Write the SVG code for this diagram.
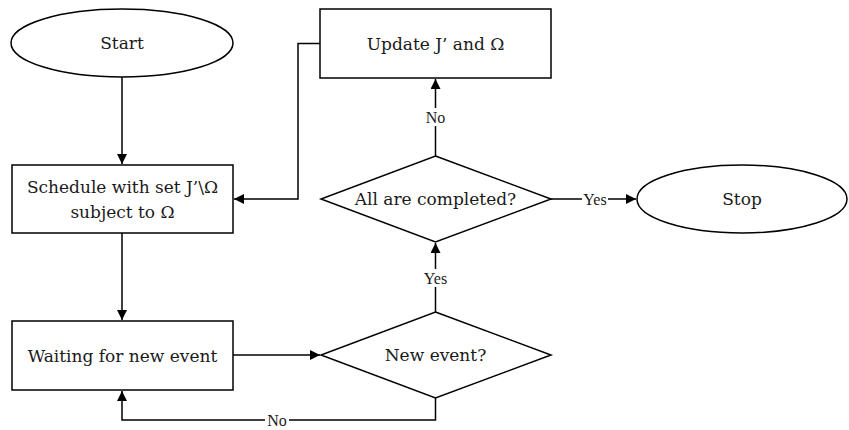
<svg xmlns="http://www.w3.org/2000/svg" width="849" height="430" viewBox="0 0 849 430">
  <defs>
    <marker id="arrow" viewBox="0 0 10 10" refX="10" refY="5" markerWidth="10" markerHeight="10" markerUnits="userSpaceOnUse" orient="auto">
      <path d="M0,0 L10,5 L0,10 z" fill="#000"/>
    </marker>
    <style>
      .shape { fill: #fff; stroke: #000; stroke-width: 1.5; }
      .line { fill: none; stroke: #000; stroke-width: 1.5; }
      .txt { font-family: "DejaVu Serif", "Liberation Serif", serif; font-size: 17px; fill: #1a1a1a; text-anchor: middle; dominant-baseline: central; }
      .lbl { font-family: "Liberation Serif", "DejaVu Serif", serif; font-size: 16px; fill: #1a1a1a; text-anchor: middle; dominant-baseline: central; }
      .bg { fill: #fff; }
    </style>
  </defs>
  <rect width="849" height="430" fill="#fff"/>

  <!-- connectors -->
  <g id="connectors">
    <path class="line" d="M122,77 V164" marker-end="url(#arrow)"/>
    <path class="line" d="M122,233 V320" marker-end="url(#arrow)"/>
    <path class="line" d="M233,355 H320" marker-end="url(#arrow)"/>
    <path class="line" d="M435.5,312 V243" marker-end="url(#arrow)"/>
    <rect class="bg" x="421" y="269" width="30" height="18"/>
    <text class="lbl" x="435.5" y="278">Yes</text>
    <path class="line" d="M435.5,156 V79" marker-end="url(#arrow)"/>
    <rect class="bg" x="423" y="108" width="26" height="18"/>
    <text class="lbl" x="435.5" y="117">No</text>
    <path class="line" d="M551,199 H636" marker-end="url(#arrow)"/>
    <rect class="bg" x="582" y="190" width="26" height="18"/>
    <text class="lbl" x="595" y="199">Yes</text>
    <path class="line" d="M435.5,398 V420 H122 V391" marker-end="url(#arrow)"/>
    <rect class="bg" x="265" y="411" width="24" height="18"/>
    <text class="lbl" x="277" y="420">No</text>
    <path class="line" d="M320,43.5 H298 V199 H234" marker-end="url(#arrow)"/>
  </g>

  <g id="start">
    <ellipse class="shape" cx="122" cy="43" rx="111" ry="34"/>
    <text class="txt" x="122" y="43">Start</text>
  </g>

  <g id="schedule">
    <rect class="shape" x="12" y="165" width="221" height="68"/>
    <text class="txt" x="122.5" y="187">Schedule with set J’\Ω</text>
    <text class="txt" x="122.5" y="212">subject to  Ω</text>
  </g>

  <g id="waiting">
    <rect class="shape" x="12" y="321" width="221" height="69"/>
    <text class="txt" x="122.5" y="355.5">Waiting for new event</text>
  </g>

  <g id="new-event">
    <polygon class="shape" points="435.5,312 551,355 435.5,398 321,355"/>
    <text class="txt" x="435.5" y="355">New event?</text>
  </g>

  <g id="all-completed">
    <polygon class="shape" points="435.5,156 551,199 435.5,242 321,199"/>
    <text class="txt" x="435.5" y="199">All are completed?</text>
  </g>

  <g id="update">
    <rect class="shape" x="320" y="9" width="231" height="69"/>
    <text class="txt" x="435.5" y="43.5">Update J’ and Ω</text>
  </g>

  <g id="stop">
    <ellipse class="shape" cx="742" cy="199" rx="105" ry="34"/>
    <text class="txt" x="742" y="199">Stop</text>
  </g>
</svg>
